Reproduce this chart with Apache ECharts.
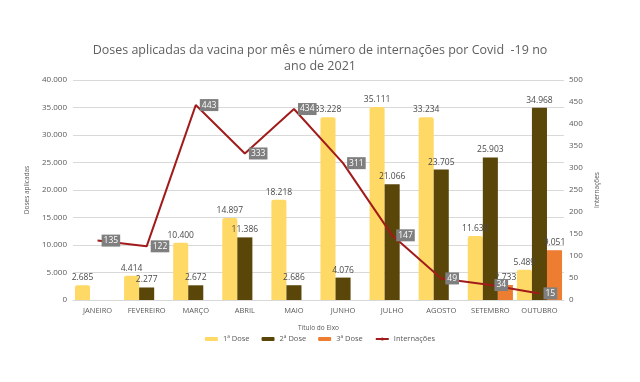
<!DOCTYPE html>
<html><head><meta charset="utf-8">
<script src="https://cdn.jsdelivr.net/npm/echarts@6/dist/echarts.min.js"></script>
<style>html,body{margin:0;padding:0;background:#fff}#c{width:640px;height:382px}</style>
</head><body><div id="c"></div>
<script>
const categories = ["JANEIRO","FEVEREIRO","MARÇO","ABRIL","MAIO","JUNHO","JULHO","AGOSTO","SETEMBRO","OUTUBRO"];
const dose1 = [2685, 4414, 10400, 14897, 18218, 33228, 35111, 33234, 11630, 5489];
const dose2 = [null, 2277, 2672, 11386, 2686, 4076, 21066, 23705, 25903, 34968];
const dose3 = [null, null, null, null, null, null, null, null, 2733, 9051];
const internacoes = [135, 122, 443, 333, 434, 311, 147, 49, 34, 15];
const leftTicks = [0, 5000, 10000, 15000, 20000, 25000, 30000, 35000, 40000];
const rightTicks = [0, 50, 100, 150, 200, 250, 300, 350, 400, 450, 500];

const fmt = v => v == null ? '' : String(Math.round(v)).replace(/\B(?=(\d{3})+(?!\d))/g, '.');
const FONT = '"Open Sans", "Noto Sans", sans-serif';
const txt = '#595959';

const barLabel = {show: true, position: 'top', distance: 3, fontSize: 8.5, color: '#4a4a4a', fontFamily: FONT,
  formatter: p => fmt(p.value)};

const chart = echarts.init(document.getElementById('c'), null, {renderer: 'canvas'});
chart.setOption({
  animation: false,
  backgroundColor: '#fff',
  title: {
    text: 'Doses aplicadas da vacina por mês e número de internações por Covid  -19 no\nano de 2021',
    left: 'center', top: 37,
    textStyle: {fontFamily: FONT, fontSize: 12.5, fontWeight: 'normal', color: '#5f5f5f', lineHeight: 16}
  },
  legend: {
    bottom: 34, left: 'center', itemWidth: 13, itemHeight: 4, itemGap: 12,
    textStyle: {fontFamily: FONT, fontSize: 7.5, color: txt},
    data: ['1ª Dose', '2ª Dose', '3ª Dose', 'Internações']
  },
  grid: {left: 73, right: 76, top: 80, bottom: 82},
  xAxis: {
    type: 'category', data: categories,
    name: 'Título do Eixo', nameLocation: 'middle', nameGap: 25,
    nameTextStyle: {fontFamily: FONT, fontSize: 6.5, color: txt},
    axisLine: {lineStyle: {color: '#d9d9d9'}}, axisTick: {show: false},
    axisLabel: {fontFamily: FONT, fontSize: 7.5, color: txt, margin: 7, interval: 0}
  },
  yAxis: [{
    type: 'value', min: 0, max: 40000, interval: 5000,
    name: 'Doses aplicadas', nameLocation: 'middle', nameGap: 33, nameRotate: 90,
    nameTextStyle: {fontFamily: FONT, fontSize: 6.5, color: txt},
    axisLabel: {fontFamily: FONT, fontSize: 8, color: txt, margin: 6, formatter: v => fmt(v)},
    splitLine: {lineStyle: {color: '#d9d9d9'}}, axisLine: {show: false}, axisTick: {show: false}
  }, {
    type: 'value', min: 0, max: 500, interval: 50,
    name: 'Internações', nameLocation: 'middle', nameGap: 25, nameRotate: 90,
    nameTextStyle: {fontFamily: FONT, fontSize: 6.5, color: txt},
    axisLabel: {fontFamily: FONT, fontSize: 8, color: txt, margin: 5},
    splitLine: {show: false}, axisLine: {show: false}, axisTick: {show: false}
  }],
  series: [
    {name: '1ª Dose', type: 'bar', data: dose1, barGap: '0%', barCategoryGap: '8%',
      itemStyle: {color: '#FFD966', borderRadius: [2, 2, 0, 0]}, label: barLabel},
    {name: '2ª Dose', type: 'bar', data: dose2, barGap: '0%', barCategoryGap: '8%',
      itemStyle: {color: '#5B4609'}, label: barLabel},
    {name: '3ª Dose', type: 'bar', data: dose3, barGap: '0%', barCategoryGap: '8%',
      itemStyle: {color: '#ED7D31'}, label: barLabel},
    {name: 'Internações', type: 'line', yAxisIndex: 1, data: internacoes,
      symbol: 'circle', symbolSize: 0.1, showSymbol: true, z: 5,
      lineStyle: {color: '#A11B1B', width: 2}, itemStyle: {color: '#A11B1B'},
      label: {show: true, position: 'right', distance: 4, fontSize: 8.5, fontFamily: FONT, color: '#fff',
        backgroundColor: '#7F7F7F', padding: [2, 2, 1, 2]}
    }
  ]
});
</script></body></html>
